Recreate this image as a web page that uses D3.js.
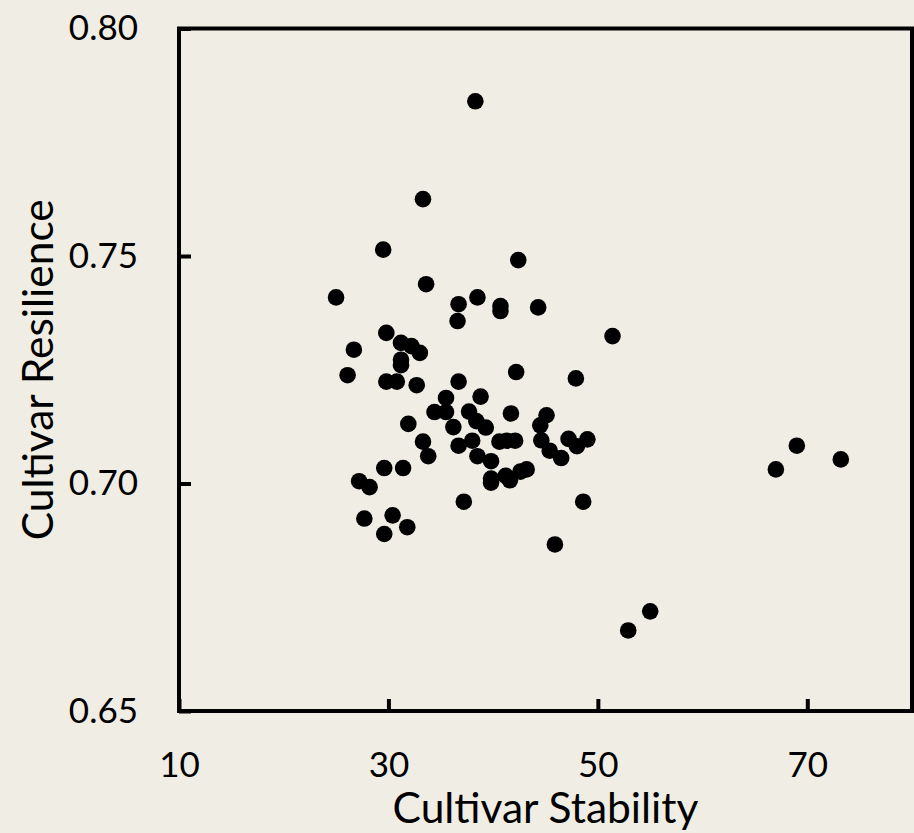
<!DOCTYPE html>
<html>
<head>
<meta charset="utf-8">
<script src="https://cdn.jsdelivr.net/npm/d3@7"></script>
<style>
  html, body { margin: 0; padding: 0; background: #f0eee4; }
  svg { display: block; }
  text { font-family: Lato, "Open Sans", sans-serif; fill: #000; }
</style>
</head>
<body>
<svg id="chart" width="914" height="833"></svg>
<script>
// ---- data ----
const stability = [38.3, 42.4, 33.3, 29.5, 33.6, 25.0, 38.5, 36.7, 36.6, 40.7,
  40.7, 44.3, 51.4, 29.8, 26.7, 31.2, 32.2, 33.0, 31.2, 31.2,
  26.1, 29.8, 30.8, 32.7, 36.7, 42.2, 47.9, 35.5, 38.8, 34.4,
  35.5, 37.7, 38.4, 39.3, 41.7, 45.1, 44.5, 31.9, 36.2, 33.3,
  33.8, 36.7, 38.0, 40.6, 41.3, 42.1, 44.6, 45.4, 46.5, 47.2,
  48.0, 49.0, 38.5, 39.8, 29.6, 31.4, 27.2, 28.2, 39.8, 39.8,
  41.2, 41.6, 42.6, 43.2, 37.2, 48.6, 27.7, 30.4, 31.8, 29.6,
  45.9, 69.0, 67.0, 73.2, 55.0, 52.9];
const resilience = [0.7840, 0.7491, 0.7625, 0.7514, 0.7438, 0.7409, 0.7409, 0.7394, 0.7357, 0.7390,
  0.7379, 0.7387, 0.7324, 0.7331, 0.7294, 0.7309, 0.7302, 0.7287, 0.7272, 0.7260,
  0.7238, 0.7224, 0.7224, 0.7216, 0.7224, 0.7245, 0.7231, 0.7188, 0.7191, 0.7157,
  0.7157, 0.7158, 0.7137, 0.7123, 0.7154, 0.7150, 0.7128, 0.7131, 0.7124, 0.7092,
  0.7060, 0.7083, 0.7094, 0.7092, 0.7094, 0.7094, 0.7095, 0.7072, 0.7056, 0.7098,
  0.7082, 0.7097, 0.7060, 0.7049, 0.7034, 0.7034, 0.7005, 0.6992, 0.7011, 0.7002,
  0.7017, 0.7007, 0.7026, 0.7031, 0.6960, 0.6960, 0.6923, 0.6930, 0.6904, 0.6889,
  0.6866, 0.7083, 0.7031, 0.7053, 0.6719, 0.6677];
const xTicks = [10, 30, 50, 70];
const yTicks = [0.65, 0.70, 0.75, 0.80];
const xDomain = [10, 80];
const yDomain = [0.65, 0.80];
const xTitle = "Cultivar Stability";
const yTitle = "Cultivar Resilience";

// ---- layout ----
const svg = d3.select("#chart");
const W = 914, H = 833;
svg.append("rect").attr("width", W).attr("height", H).attr("fill", "#f0eee4");

const x = d3.scaleLinear().domain(xDomain).range([179, 912]);
const y = d3.scaleLinear().domain(yDomain).range([711, 28.5]);

const tickFont = 35, titleFont = 42.5;

// X axis
const gx = svg.append("g").attr("transform", `translate(0,${y(yDomain[0])})`)
  .call(d3.axisBottom(x).tickValues(xTicks).tickSize(-12).tickFormat(d3.format("d")));
gx.select(".domain").remove();
gx.selectAll(".tick line").attr("stroke", "#000").attr("stroke-width", 4);
gx.selectAll(".tick text").attr("dy", null).attr("y", 66)
  .attr("font-size", tickFont).attr("fill", "#000");

// Y axis
const gy = svg.append("g").attr("transform", `translate(${x(xDomain[0])},0)`)
  .call(d3.axisLeft(y).tickValues(yTicks).tickSize(-12).tickFormat(d3.format(".2f")));
gy.select(".domain").remove();
gy.selectAll(".tick line").attr("stroke", "#000").attr("stroke-width", 4);
gy.selectAll(".tick text").attr("dy", null).attr("x", -41).attr("y", 11)
  .attr("font-size", tickFont).attr("fill", "#000");

// Frame
svg.append("rect")
  .attr("x", x(xDomain[0])).attr("y", y(yDomain[1]))
  .attr("width", x(xDomain[1]) - x(xDomain[0]))
  .attr("height", y(yDomain[0]) - y(yDomain[1]))
  .attr("fill", "none").attr("stroke", "#000").attr("stroke-width", 4);

// Points
const pts = stability.map((s, i) => ({ s, r: resilience[i] }));
svg.append("g").selectAll("circle").data(pts).join("circle")
  .attr("cx", d => x(d.s)).attr("cy", d => y(d.r)).attr("r", 8.3).attr("fill", "#000");

// Titles
svg.append("text").attr("x", (x(xDomain[0]) + x(xDomain[1])) / 2).attr("y", 823)
  .attr("text-anchor", "middle").attr("font-size", titleFont).text(xTitle);
svg.append("text")
  .attr("transform", `translate(53,${(y(yDomain[0]) + y(yDomain[1])) / 2}) rotate(-90)`)
  .attr("text-anchor", "middle").attr("font-size", titleFont).text(yTitle);
</script>
</body>
</html>
